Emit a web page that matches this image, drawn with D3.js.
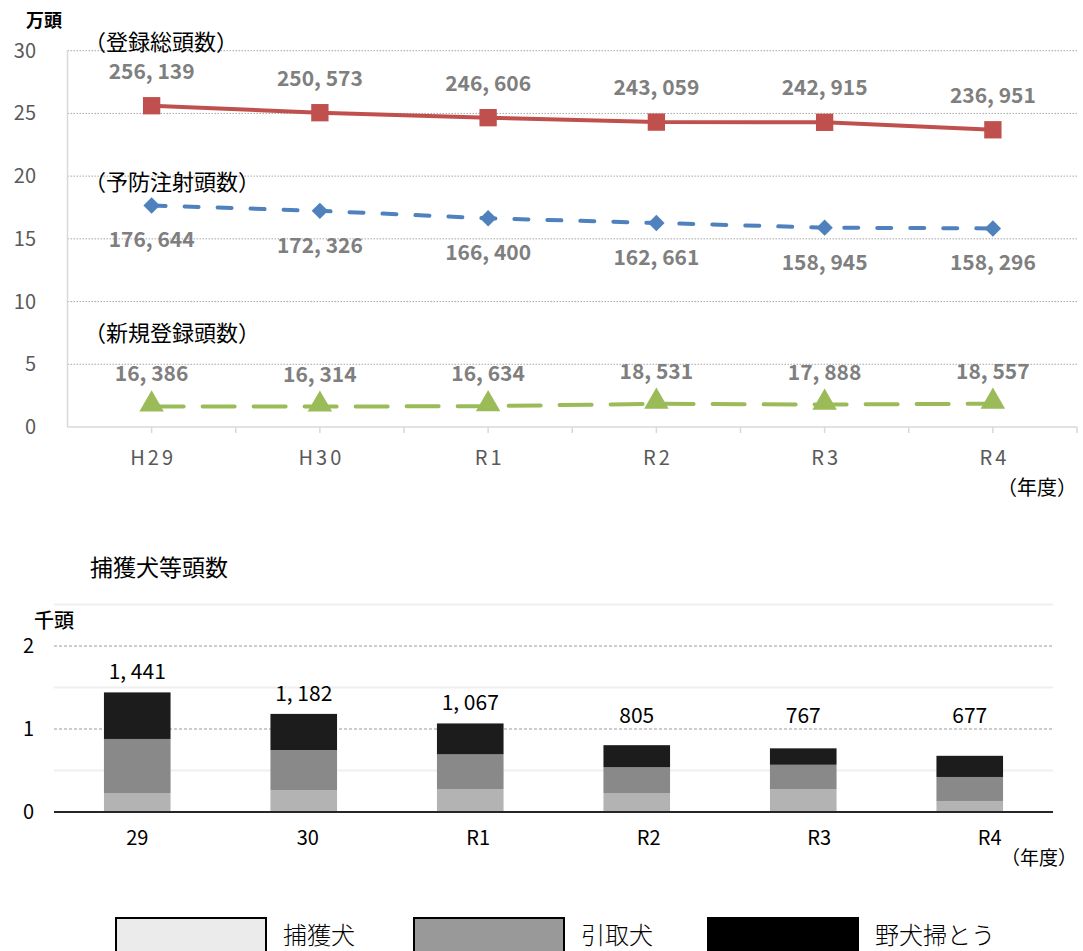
<!DOCTYPE html>
<html>
<head>
<meta charset="utf-8">
<script src="https://cdn.jsdelivr.net/npm/d3@7/dist/d3.min.js"></script>
<style>
  body { margin: 0; background: #fff; }
  svg { display: block; }
</style>
</head>
<body>
<script>
// ---- data (top chart, 頭数) ----
var years = ['H29', 'H30', 'R1', 'R2', 'R3', 'R4'];
var totalReg = [256139, 250573, 246606, 243059, 242915, 236951];
var vaccinated = [176644, 172326, 166400, 162661, 158945, 158296];
var newReg = [16386, 16314, 16634, 18531, 17888, 18557];
var topTicks = [0, 5, 10, 15, 20, 25, 30];

// ---- data (bottom chart, 捕獲犬等) ----
var barYears = ['29', '30', 'R1', 'R2', 'R3', 'R4'];
var captured = [229, 261, 273, 229, 273, 129];
var takenIn = [651, 486, 422, 310, 296, 293];
var wildSweep = [561, 435, 372, 266, 198, 255];
var barTotals = [1441, 1182, 1067, 805, 767, 677];
var barTicks = [0, 1, 2];

var W = 1083, H = 951;
var FONT = "'Noto Sans CJK JP', 'Noto Sans', sans-serif";

var svg = d3.select('body').append('svg')
	.attr('width', W)
	.attr('height', H)
	.style('font-family', FONT);

var fmt = d3.format(',');
// the original puts a space after the thousands comma
function fmtLabel(v) { return fmt(v).replace(',', ', '); }

// ------------------------ TOP LINE CHART ------------------------
var x1 = d3.scaleBand().domain(years).range([67.5, 1077]);
var y1 = d3.scaleLinear().domain([0, 30]).range([427, 50.7]);

// dotted gridlines
svg.append('g').selectAll('line')
	.data(topTicks.filter(function(d) { return d > 0; }))
	.enter().append('line')
	.attr('x1', 67.5).attr('x2', 1077)
	.attr('y1', function(d) { return y1(d); })
	.attr('y2', function(d) { return y1(d); })
	.attr('stroke', '#a6a6a6')
	.attr('stroke-width', 1)
	.attr('stroke-dasharray', '1.5,1.5');

// axis lines
svg.append('line').attr('x1', 67.5).attr('x2', 67.5).attr('y1', 50).attr('y2', y1(0))
	.attr('stroke', '#d9d9d9').attr('stroke-width', 1.5);
svg.append('line').attr('x1', 67.5).attr('x2', 1077).attr('y1', y1(0)).attr('y2', y1(0))
	.attr('stroke', '#d9d9d9').attr('stroke-width', 1.5);

// x ticks at band edges and centers
var tickXs = [];
years.forEach(function(d) {
	tickXs.push(x1(d) + x1.bandwidth());
	tickXs.push(x1(d) + x1.bandwidth() / 2);
});
svg.append('g').selectAll('line')
	.data(tickXs)
	.enter().append('line')
	.attr('x1', function(d) { return d; })
	.attr('x2', function(d) { return d; })
	.attr('y1', y1(0))
	.attr('y2', y1(0) + 6)
	.attr('stroke', '#d9d9d9')
	.attr('stroke-width', 1.5);

// y tick labels
svg.append('g').selectAll('text')
	.data(topTicks)
	.enter().append('text')
	.attr('x', 36)
	.attr('y', function(d) { return y1(d) + 7; })
	.attr('text-anchor', 'end')
	.attr('fill', '#595959')
	.style('font-size', '20px')
	.text(function(d) { return d; });

// x tick labels
svg.append('g').selectAll('text')
	.data(years)
	.enter().append('text')
	.attr('x', function(d) { return x1(d) + x1.bandwidth() / 2 + 1.5; })
	.attr('y', 465)
	.attr('text-anchor', 'middle')
	.attr('fill', '#595959')
	.style('font-size', '20px')
	.style('letter-spacing', '3px')
	.text(function(d) { return d; });

svg.append('text').attr('x', 26).attr('y', 27).attr('fill', '#000')
	.style('font-size', '18px').style('font-weight', 'bold').text('万頭');
svg.append('text').attr('x', 1077).attr('y', 495).attr('text-anchor', 'end').attr('fill', '#000')
	.style('font-size', '20px').text('（年度）');

var series = [
	{ name: '（登録総頭数）', values: totalReg, color: '#c0504d', dash: null, marker: 'square', labelDy: -27, nameY: 50 },
	{ name: '（予防注射頭数）', values: vaccinated, color: '#4f81bd', dash: '14,19', marker: 'diamond', labelDy: 42, nameY: 190 },
	{ name: '（新規登録頭数）', values: newReg, color: '#9bbb59', dash: '32,19', marker: 'triangle', labelDy: -25, nameY: 341 }
];

var line1 = d3.line()
	.x(function(d, i) { return x1(years[i]) + x1.bandwidth() / 2; })
	.y(function(d) { return y1(d / 10000); });

series.forEach(function(s) {
	svg.append('path')
		.datum(s.values)
		.attr('d', line1)
		.attr('fill', 'none')
		.attr('stroke', s.color)
		.attr('stroke-width', 4)
		.attr('stroke-linecap', 'round')
		.attr('stroke-dasharray', s.dash);

	// diamond = square rotated 45deg (the d3 diamond is too tall)
	var sym = s.marker === 'triangle' ? d3.symbolTriangle : d3.symbolSquare;
	var size = s.marker === 'square' ? 300 : (s.marker === 'diamond' ? 135 : 260);
	svg.append('g').selectAll('path')
		.data(s.values)
		.enter().append('path')
		.attr('d', d3.symbol().type(sym).size(size))
		.attr('transform', function(d, i) {
			var dy = s.marker === 'triangle' ? -2 : 0;
			var rot = s.marker === 'diamond' ? ' rotate(45)' : '';
			return 'translate(' + (x1(years[i]) + x1.bandwidth() / 2) + ',' + (y1(d / 10000) + dy) + ')' + rot;
		})
		.attr('fill', s.color);

	svg.append('g').selectAll('text')
		.data(s.values)
		.enter().append('text')
		.attr('x', function(d, i) { return x1(years[i]) + x1.bandwidth() / 2; })
		.attr('y', function(d) { return y1(d / 10000) + s.labelDy; })
		.attr('text-anchor', 'middle')
		.attr('fill', '#7f7f7f')
		.style('font-size', '21px')
		.style('font-weight', 'bold')
		.text(function(d) { return fmtLabel(d); });

	svg.append('text')
		.attr('x', 84)
		.attr('y', s.nameY)
		.attr('fill', '#000')
		.style('font-size', '22px')
		.text(s.name);
});

// ------------------------ BOTTOM STACKED BAR CHART ------------------------
var x2 = d3.scaleBand().domain(barYears).range([54, 1053]).paddingInner(0.6).paddingOuter(0.3);
// category labels sit a bit to the right of the bars in the original
var x2lab = d3.scaleBand().domain(barYears).range([52, 1075]);
var y2 = d3.scaleLinear().domain([0, 2.5]).range([812, 604.5]);

svg.append('text').attr('x', 90).attr('y', 576).attr('fill', '#000')
	.style('font-size', '23px').text('捕獲犬等頭数');
svg.append('text').attr('x', 34).attr('y', 628).attr('fill', '#000')
	.style('font-size', '20px').style('font-weight', '500').text('千頭');

// solid light gridlines at halves
svg.append('g').selectAll('line')
	.data([0.5, 1.5, 2.5])
	.enter().append('line')
	.attr('x1', 54).attr('x2', 1053)
	.attr('y1', function(d) { return y2(d); })
	.attr('y2', function(d) { return y2(d); })
	.attr('stroke', '#efefef')
	.attr('stroke-width', 2);

// dashed major gridlines
svg.append('g').selectAll('line')
	.data([1, 2])
	.enter().append('line')
	.attr('x1', 54).attr('x2', 1053)
	.attr('y1', function(d) { return y2(d); })
	.attr('y2', function(d) { return y2(d); })
	.attr('stroke', '#9a9a9a')
	.attr('stroke-width', 1)
	.attr('stroke-dasharray', '3,2');

svg.append('g').selectAll('text')
	.data(barTicks)
	.enter().append('text')
	.attr('x', 34)
	.attr('y', function(d) { return y2(d) + 7; })
	.attr('text-anchor', 'end')
	.attr('fill', '#000')
	.style('font-size', '20px')
	.text(function(d) { return d; });

var stackData = barYears.map(function(d, i) {
	return { year: d, captured: captured[i], takenIn: takenIn[i], wildSweep: wildSweep[i] };
});
var keys = ['captured', 'takenIn', 'wildSweep'];
var barColors = { captured: '#b3b3b3', takenIn: '#898989', wildSweep: '#1c1c1c' };
var stacked = d3.stack().keys(keys)(stackData);

stacked.forEach(function(layer) {
	svg.append('g').selectAll('rect')
		.data(layer)
		.enter().append('rect')
		.attr('x', function(d) { return x2(d.data.year); })
		.attr('width', x2.bandwidth())
		.attr('y', function(d) { return y2(d[1] / 1000); })
		.attr('height', function(d) { return y2(d[0] / 1000) - y2(d[1] / 1000); })
		.attr('fill', barColors[layer.key]);
});

svg.append('line').attr('x1', 54).attr('x2', 1053).attr('y1', y2(0)).attr('y2', y2(0))
	.attr('stroke', '#262626').attr('stroke-width', 2);

// totals above the bars (small bars keep their label at a common height)
svg.append('g').selectAll('text')
	.data(barTotals)
	.enter().append('text')
	.attr('x', function(d, i) { return x2(barYears[i]) + x2.bandwidth() / 2; })
	.attr('y', function(d) { return Math.min(y2(d / 1000) - 13, y2(1.07)); })
	.attr('text-anchor', 'middle')
	.attr('fill', '#000')
	.style('font-size', '21px')
	.text(function(d) { return fmtLabel(d); });

svg.append('g').selectAll('text')
	.data(barYears)
	.enter().append('text')
	.attr('x', function(d) { return x2lab(d) + x2lab.bandwidth() / 2; })
	.attr('y', 845)
	.attr('text-anchor', 'middle')
	.attr('fill', '#000')
	.style('font-size', '20px')
	.text(function(d) { return d; });

svg.append('text').attr('x', 1077).attr('y', 865).attr('text-anchor', 'end').attr('fill', '#000')
	.style('font-size', '19px').text('（年度）');

// ------------------------ LEGEND ------------------------
var legendItems = [
	{ label: '捕獲犬', fill: '#ebebeb', x: 115 },
	{ label: '引取犬', fill: '#999999', x: 413 },
	{ label: '野犬掃とう', fill: '#000000', x: 707 }
];
var legend = svg.append('g').selectAll('g')
	.data(legendItems)
	.enter().append('g')
	.attr('transform', function(d) { return 'translate(' + d.x + ',917)'; });
legend.append('rect')
	.attr('x', 1).attr('y', 1)
	.attr('width', 150).attr('height', 34)
	.attr('fill', function(d) { return d.fill; })
	.attr('stroke', '#000')
	.attr('stroke-width', 2);
legend.append('text')
	.attr('x', 168)
	.attr('y', 27)
	.attr('fill', '#000')
	.style('font-size', '24px')
	.style('font-weight', '300')
	.text(function(d) { return d.label; });
</script>
</body>
</html>
